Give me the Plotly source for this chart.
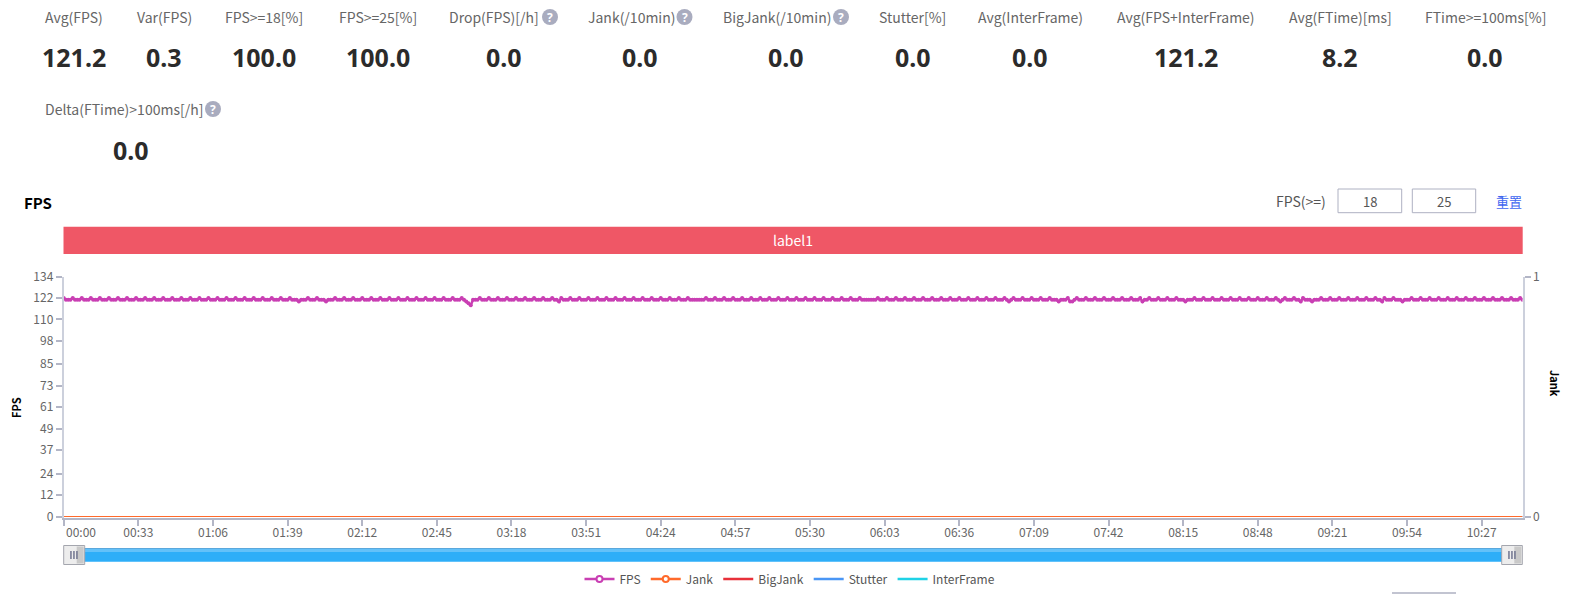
import plotly.graph_objects as go

W, H = 1576, 594

metric_names = ["Avg(FPS)", "Var(FPS)", "FPS>=18[%]", "FPS>=25[%]", "Drop(FPS)[/h]", "Jank(/10min)",
                "BigJank(/10min)", "Stutter[%]", "Avg(InterFrame)", "Avg(FPS+InterFrame)",
                "Avg(FTime)[ms]", "FTime>=100ms[%]", "Delta(FTime)>100ms[/h]"]
metric_values = ["121.2", "0.3", "100.0", "100.0", "0.0", "0.0", "0.0", "0.0", "0.0", "121.2", "8.2", "0.0", "0.0"]

y_tick_labels = [0, 12, 24, 37, 49, 61, 73, 85, 98, 110, 122, 134]
x_tick_labels = ["00:00", "00:33", "01:06", "01:39", "02:12", "02:45", "03:18", "03:51", "04:24", "04:57",
                 "05:30", "06:03", "06:36", "07:09", "07:42", "08:15", "08:48", "09:21", "09:54", "10:27"]

fps = [
    122,121,121,121,122,121,121,121,122,121,121,121,122,121,121,121,
    122,121,121,121,122,121,121,121,122,121,121,121,122,121,121,121,
    122,121,121,121,122,121,121,121,122,121,121,121,122,121,121,121,
    122,121,121,121,122,121,121,121,122,121,121,121,122,121,121,121,
    122,121,121,121,122,121,121,121,122,121,121,121,122,121,121,121,
    122,121,121,121,122,121,121,121,122,121,121,121,122,121,121,121,
    122,121,121,121,122,121,121,121,120,121,121,121,122,121,121,121,
    122,121,121,121,120,121,121,121,122,121,121,121,122,121,121,121,
    122,121,121,121,122,121,121,121,122,121,121,121,122,121,121,121,
    122,121,121,121,122,121,121,121,122,121,121,121,122,121,121,121,
    122,121,121,121,122,121,121,121,122,121,121,121,122,121,121,121,
    122,121,120,119,118,121,121,121,122,121,121,121,122,121,121,121,
    122,121,121,121,122,121,121,121,122,121,121,121,122,121,121,121,
    122,121,121,121,122,121,121,121,122,121,121,120,122,121,121,121,
    122,121,121,121,122,121,121,121,122,121,121,121,122,121,121,121,
    122,121,121,121,122,121,121,121,122,121,121,121,122,121,121,121,
    122,121,121,121,122,121,121,121,122,121,121,121,122,121,121,121,
    122,121,121,121,122,121,121,121,121,121,121,121,122,121,121,121,
    122,121,121,121,122,121,121,121,122,121,121,121,122,121,121,121,
    122,121,121,121,122,121,121,121,122,121,121,121,122,121,121,121,
    122,121,121,121,122,121,121,121,122,121,121,121,122,121,121,121,
    122,121,121,121,122,121,121,121,122,121,121,121,122,121,121,121,
    122,121,121,121,121,121,121,121,122,121,121,121,122,121,121,121,
    122,121,121,121,122,121,121,121,122,121,121,121,122,121,121,121,
    122,121,121,121,122,121,121,121,122,121,121,121,122,121,121,121,
    122,121,121,121,122,121,121,121,122,121,121,121,122,121,121,121,
    122,121,120,121,122,121,121,121,122,121,121,121,122,121,121,121,
    122,121,121,121,122,121,121,121,120,121,121,121,122,120,120,121,
    122,121,121,121,122,121,121,121,122,121,121,121,122,121,121,121,
    122,121,121,121,122,121,121,121,122,121,121,121,122,120,121,121,
    122,121,121,121,122,121,121,121,122,121,121,121,122,121,121,121,
    120,121,121,121,122,121,121,121,122,121,121,121,122,121,121,121,
    122,121,121,121,122,121,121,121,122,121,121,121,122,121,121,121,
    122,121,121,121,122,121,121,121,122,121,120,121,122,121,121,121,
    122,121,121,120,122,121,121,121,120,121,121,121,122,121,121,121,
    122,121,121,121,122,121,121,121,122,121,121,121,122,121,121,121,
    122,121,121,121,122,121,121,120,122,121,121,121,122,121,121,121,
    120,121,121,121,122,121,121,121,122,121,121,121,122,121,121,121,
    122,121,121,121,122,121,121,121,122,121,121,121,122,121,121,121,
    122,121,121,121,122,121,121,121,122,121,121,121,122,121,121,121,
    122,121,121,121,122,121,
]
jank = [0] * len(fps)
big_jank = [0] * len(fps)
stutter = [0] * len(fps)
inter_frame = [0] * len(fps)
seconds = list(range(len(fps)))

COL_FPS, COL_JANK, COL_BIG, COL_STUT, COL_INTER = "#c93fb3", "#ff6a2b", "#e8303a", "#4a96f5", "#1fd2e6"
LABEL_FONT = "Noto Sans CJK SC, Noto Sans, sans-serif"
TEXT = "#666666"
TICK = "#b3b6c6"
AXIS = "#ccd0dc"

L, R, T, B = 63.7, 1522.5, 276.5, 518.0
ZERO_Y = 516.5
PER_UNIT = (ZERO_Y - T) / 134


def px(x):
    return x / W


def py(y):
    return 1 - y / H


def secs(label):
    m, s = label.split(":")
    return int(m) * 60 + int(s)


fig = go.Figure()
common = dict(x=seconds, hoverinfo="skip", showlegend=False)
fig.add_trace(go.Scatter(y=inter_frame, yaxis="y2", mode="lines", line=dict(color=COL_INTER, width=1), **common))
fig.add_trace(go.Scatter(y=stutter, yaxis="y2", mode="lines", line=dict(color=COL_STUT, width=1), **common))
fig.add_trace(go.Scatter(y=big_jank, yaxis="y2", mode="lines", line=dict(color=COL_BIG, width=1), **common))
fig.add_trace(go.Scatter(y=jank, yaxis="y2", mode="lines", line=dict(color=COL_JANK, width=1), **common))
fig.add_trace(go.Scatter(y=fps, mode="lines+markers", line=dict(color=COL_FPS, width=2.5),
                         marker=dict(color=COL_FPS, size=4), **common))

for name, col, marked, rank in [("FPS", COL_FPS, True, 1), ("Jank", COL_JANK, True, 2), ("BigJank", COL_BIG, False, 3),
                                ("Stutter", COL_STUT, False, 4), ("InterFrame", COL_INTER, False, 5)]:
    fig.add_trace(go.Scatter(x=[None], y=[None], name=name, legendrank=rank,
                             mode="lines+markers" if marked else "lines",
                             line=dict(color=col, width=2.5),
                             marker=dict(color="white", size=6, line=dict(color=col, width=2))))

annotations = []
shapes = []


def text(x, y, s, size=14, color=TEXT, font=LABEL_FONT, anchor="center", angle=0, bold=False):
    annotations.append(dict(xref="paper", yref="paper", x=px(x), y=py(y), text=f"<b>{s}</b>" if bold else s,
                            showarrow=False, xanchor=anchor, yanchor="middle", textangle=angle,
                            font=dict(size=size, color=color, family=font)))


def rect(x0, y0, x1, y1, fill, line=None, lw=1):
    shapes.append(dict(type="rect", xref="paper", yref="paper", x0=px(x0), x1=px(x1), y0=py(y0), y1=py(y1),
                       fillcolor=fill, line=dict(color=line or fill, width=lw if line else 0), layer="above"))


label_x = [73.5, 164, 264, 378, 494.5, 632, 777, 912.5, 1030, 1186, 1340, 1485, 124]
value_x = [73.5, 164, 264, 378, 503.5, 640, 786, 912.5, 1030, 1186, 1340, 1485, 131]
icon_x = {4: 550, 5: 684.5, 6: 841, 12: 213}
for i, (n, v) in enumerate(zip(metric_names, metric_values)):
    ly, vy = (17, 56.5) if i < 12 else (109, 150)
    text(label_x[i], ly, n.replace(">", "&gt;"))
    text(value_x[i], vy, v, size=25, color="#2b2b2b", font="Noto Sans, sans-serif", bold=True)
    if i in icon_x:
        cx = icon_x[i]
        shapes.append(dict(type="circle", xref="paper", yref="paper", x0=px(cx - 8), x1=px(cx + 8),
                           y0=py(ly + 8), y1=py(ly - 8), fillcolor="#a9acbf", line=dict(width=0), layer="above"))
        text(cx, ly, "?", size=12, color="white", font="Noto Sans, sans-serif", bold=True)

text(38, 203, "FPS", size=15, color="black", font=LABEL_FONT, bold=True)
text(1300.7, 201, "FPS(&gt;=)", size=14, color="#555555")
rect(1338, 189, 1401.7, 212.7, "white", "#aeb1c2", 1)
rect(1412.3, 189, 1475.7, 212.7, "white", "#aeb1c2", 1)
text(1370, 201, "18", size=13, color="#555555")
text(1444, 201, "25", size=13, color="#555555")
text(1509, 201, "重置", size=13, color="#3f66f0")

rect(63.5, 226.7, 1522.7, 254, "#ef5766")
text(793, 240, "label1", size=14, color="white")

text(16, 407, "FPS", size=11, color="black", angle=-90, bold=True)
text(1555, 383, "Jank", size=11, color="black", angle=90, bold=True)
text(64, 531.5, "00:00", size=12, anchor="left")

# range slider look
rect(64, 548, 1522, 561.7, "#2eaef8")
rect(64, 548, 1522, 549, "#5aa8dc")
rect(64, 549, 1522, 552, "#63c1f9")
for x0, x1 in [(63.7, 84.7), (1501.7, 1522.3)]:
    rect(x0, 545.5, x1, 564.5, "#ededed", "#a4a6ae", 1)
    rect(x1 - 8, 546.5, x1 - 1, 563.5, "#c9c9c9")
    for k in (0, 1, 2):
        rect(x0 + 6.5 + k * 3, 551, x0 + 8 + k * 3, 559, "#70748f")

shapes.append(dict(type="line", xref="paper", yref="paper", x0=px(1392), x1=px(1456), y0=py(593), y1=py(593),
                   line=dict(color="#aeb1c2", width=1.5)))

y_range = [-(B - ZERO_Y) / PER_UNIT, 134]
x_ticks = [secs(s) for s in x_tick_labels]
x_text = [""] + x_tick_labels[1:]

fig.update_layout(
    width=W, height=H, autosize=False, margin=dict(l=0, r=0, t=0, b=0, pad=0, autoexpand=False),
    paper_bgcolor="white", plot_bgcolor="white",
    font=dict(family=LABEL_FONT, size=12, color=TEXT),
    xaxis=dict(domain=[px(L), px(R)], range=[0, (R - L) / 2.2615], tickmode="array", tickvals=x_ticks, ticktext=x_text,
               showgrid=False, zeroline=False, showline=True, linecolor=TICK, linewidth=2,
               ticks="outside", ticklen=6, tickcolor=TICK, tickwidth=2, ticklabelstandoff=-3,
               tickfont=dict(size=12, color=TEXT)),
    yaxis=dict(domain=[py(B), py(T)], range=y_range, tickmode="array", tickvals=y_tick_labels,
               ticktext=[str(v) for v in y_tick_labels], showgrid=False, zeroline=False, showline=True,
               linecolor=AXIS, linewidth=2, ticks="outside", ticklen=6, tickcolor=TICK, tickwidth=2,
               tickfont=dict(size=12, color=TEXT)),
    yaxis2=dict(domain=[py(B), py(T)], overlaying="y", side="right", anchor="x", range=[-(B - ZERO_Y) / (ZERO_Y - T), 1],
                tickmode="array", tickvals=[0, 1], ticktext=["0", "1"], showgrid=False, zeroline=False, showline=True,
                linecolor=AXIS, linewidth=2, ticks="outside", ticklen=6, tickcolor=TICK, tickwidth=2,
                tickfont=dict(size=12, color=TEXT)),
    legend=dict(orientation="h", x=790 / W, xanchor="center", y=py(579), yanchor="middle",
                font=dict(size=12, color="#555555"), itemwidth=30, traceorder="normal",
                bgcolor="rgba(0,0,0,0)"),
    annotations=annotations, shapes=shapes,
)

fig.write_html("out.html", config={"displayModeBar": False},
               post_script="document.body.style.margin='0';document.body.style.overflow='hidden';")
